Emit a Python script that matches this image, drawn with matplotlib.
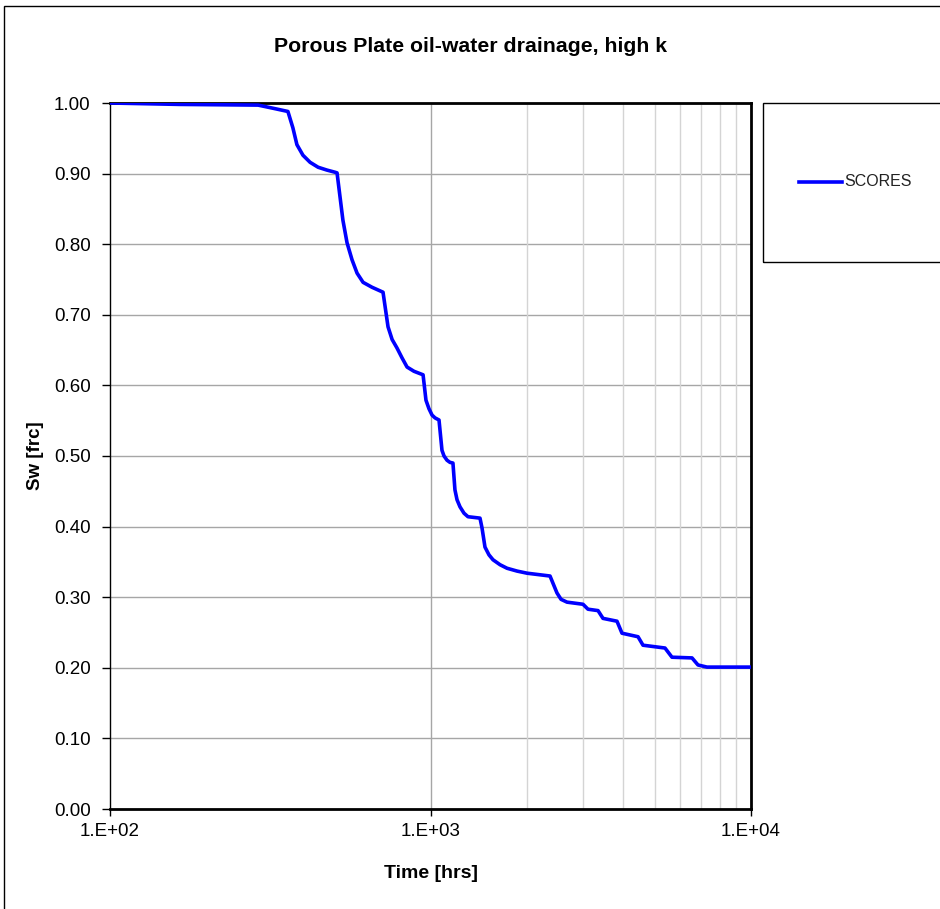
import matplotlib
matplotlib.use('Agg')
from matplotlib import pyplot as plt
from matplotlib.lines import Line2D
from matplotlib.patches import Rectangle
import numpy as np

plt.rcParams['font.family'] = ['Liberation Sans', 'DejaVu Sans']

# Time [hrs] vs Sw [frc]
time_hrs = [100, 165, 290, 327, 359, 372, 383, 400, 421, 446, 475, 503,
            511, 533, 549, 569, 590, 616, 657, 711,
            737, 759, 786, 815, 845, 888, 948,
            968, 989, 1011, 1033, 1063,
            1086, 1102, 1126, 1150, 1175,
            1192, 1210, 1236, 1272, 1309, 1427,
            1448, 1479, 1522, 1567, 1648, 1733, 1862, 2001, 2360,
            2481, 2554, 2666, 2991, 3100, 3332, 3453, 3818, 3958, 4441,
            4603, 5391, 5668, 6545, 6833, 7289, 10000]
sw_frc = [1.000, 0.998, 0.997, 0.992, 0.988, 0.965, 0.941, 0.926, 0.916, 0.909, 0.905, 0.902,
          0.901, 0.834, 0.802, 0.778, 0.759, 0.746, 0.739, 0.732,
          0.683, 0.665, 0.653, 0.639, 0.626, 0.620, 0.615,
          0.579, 0.567, 0.558, 0.554, 0.551,
          0.508, 0.500, 0.494, 0.491, 0.490,
          0.452, 0.438, 0.428, 0.419, 0.414, 0.412,
          0.398, 0.371, 0.360, 0.353, 0.346, 0.341, 0.337, 0.334, 0.330,
          0.306, 0.297, 0.293, 0.290, 0.283, 0.281, 0.270, 0.266, 0.249, 0.244,
          0.232, 0.228, 0.215, 0.214, 0.204, 0.201, 0.201]
series_name = 'SCORES'
y_ticks = np.arange(0, 1.01, 0.1)
x_ticks = [1e2, 1e3, 1e4]
x_ticklabels = ['1.E+02', '1.E+03', '1.E+04']
minor_grid = [2000, 3000, 4000, 5000, 6000, 7000, 8000, 9000]

fig = plt.figure(figsize=(9.4, 9.09), dpi=100)
ax = fig.add_axes([110/940, 100/909, 641/940, 706/909])

# grid
for v in y_ticks[1:]:
    ax.axhline(v, color='#a6a6a6', lw=1.0, zorder=1)
ax.axvline(1000, color='#a6a6a6', lw=1.0, zorder=1)
for v in minor_grid:
    ax.axvline(v, color='#d4d4d4', lw=1.0, zorder=1)

ax.plot(time_hrs, sw_frc, color='#0000ff', lw=2.6, zorder=3, solid_joinstyle='round')

ax.set_xscale('log')
ax.set_xlim(100, 10000)
ax.set_ylim(0, 1)
ax.set_xticks(x_ticks)
ax.set_xticklabels(x_ticklabels)
ax.xaxis.set_minor_locator(matplotlib.ticker.NullLocator())
ax.set_yticks(y_ticks)
ax.set_yticklabels(['%.2f' % v for v in y_ticks])
ax.tick_params(axis='x', labelsize=13.5, direction='out', length=5, width=1,
               color='black', pad=5)
ax.tick_params(axis='y', labelsize=13.5, direction='out', length=6, width=1,
               color='black', pad=8)

for s in ['top', 'right', 'bottom']:
    ax.spines[s].set_linewidth(2)
ax.spines['left'].set_linewidth(1)

ax.set_xlabel('Time [hrs]', fontsize=14, fontweight='bold', labelpad=18)
ax.set_ylabel('Sw [frc]', fontsize=13.5, fontweight='bold')
ax.yaxis.set_label_coords((44 - 110) / 641, 0.5)
fig.text(470/940, 1 - 47/909, 'Porous Plate oil-water drainage, high k',
         ha='center', va='center', fontsize=15.3, fontweight='bold')

# outer chart border
fig.add_artist(Rectangle((4/940, -0.1), 1.1, 1 - 6/909 + 0.1, transform=fig.transFigure,
                         fill=False, edgecolor='black', lw=1))

# legend box
fig.add_artist(Rectangle((763/940, 1 - 262/909), 0.3, 159/909, transform=fig.transFigure,
                         fill=False, edgecolor='black', lw=1))
fig.add_artist(Line2D([799/940, 842/940], [1 - 182/909, 1 - 182/909],
                      transform=fig.transFigure, color='#0000ff', lw=2.6))
fig.text(844/940, 1 - 182/909, series_name, ha='left', va='center', fontsize=11.5,
         color='#222222')

fig.savefig('out.png', dpi=100)
